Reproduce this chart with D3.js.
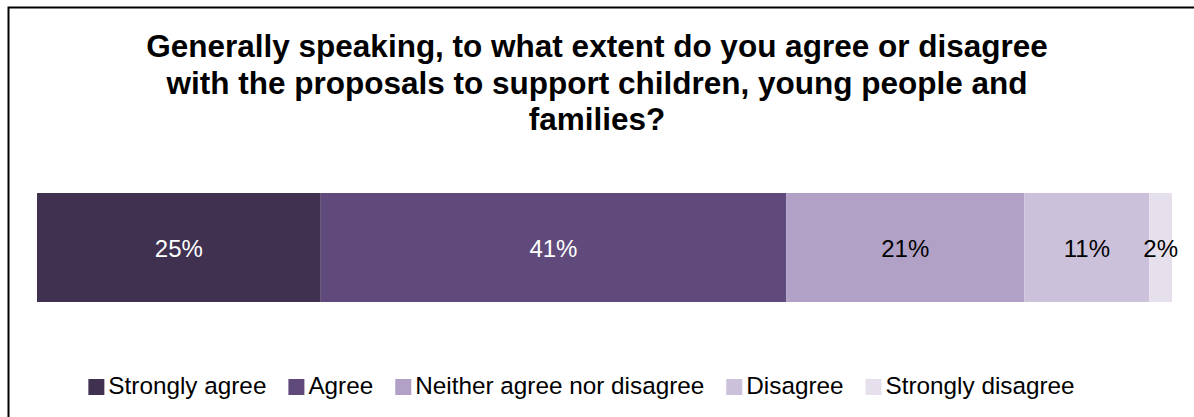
<!DOCTYPE html>
<html>
<head>
<meta charset="utf-8">
<script src="https://cdn.jsdelivr.net/npm/d3@7"></script>
<style>
  html, body { margin: 0; padding: 0; background: #fff; }
  svg { display: block; }
  text { font-family: "Liberation Sans", Arial, sans-serif; }
</style>
</head>
<body>
<svg id="chart" width="1194" height="417"></svg>
<script>
// Survey responses (percent of respondents)
const categories = ["Strongly agree", "Agree", "Neither agree nor disagree", "Disagree", "Strongly disagree"];
const values = [25, 41, 21, 11, 2];
const colors = ["#403151", "#604A7B", "#B2A1C7", "#CCC1DA", "#E6E0EC"];
const labelColors = ["#ffffff", "#ffffff", "#000000", "#000000", "#000000"];
const titleLines = [
  "Generally speaking, to what extent do you agree or disagree",
  "with the proposals to support children, young people and",
  "families?"
];

const svg = d3.select("#chart");
const W = 1194, H = 417;

// outer frame
svg.append("rect")
  .attr("x", 8.5).attr("y", 7.5)
  .attr("width", W + 20).attr("height", H + 20)
  .attr("fill", "#fff").attr("stroke", "#000").attr("stroke-width", 2);

// title
const title = svg.append("text")
  .attr("text-anchor", "middle")
  .attr("font-weight", "bold")
  .attr("font-size", 31.5)
  .attr("fill", "#000");
titleLines.forEach((line, i) => {
  title.append("tspan").attr("x", 597).attr("y", 57 + i * 36.5).text(line);
});

// stacked bar
const x = d3.scaleLinear().domain([0, d3.sum(values)]).range([37, 1172]);
const y = d3.scaleBand().domain(["all"]).range([193, 302]).padding(0);

let cum = 0;
const segs = values.map((v, i) => {
  const s = { cat: categories[i], v, x0: cum, x1: cum + v, color: colors[i], lc: labelColors[i] };
  cum += v;
  return s;
});

const g = svg.append("g");
g.selectAll("rect.seg").data(segs).enter().append("rect")
  .attr("class", "seg")
  .attr("x", d => x(d.x0))
  .attr("y", y("all"))
  .attr("width", d => x(d.x1) - x(d.x0))
  .attr("height", y.bandwidth())
  .attr("fill", d => d.color);

g.selectAll("text.lbl").data(segs).enter().append("text")
  .attr("class", "lbl")
  .attr("x", d => (x(d.x0) + x(d.x1)) / 2)
  .attr("y", 257)
  .attr("text-anchor", "middle")
  .attr("font-size", 24)
  .attr("fill", d => d.lc)
  .text(d => d.v + "%");

// legend, centred under the bar
const legend = svg.append("g");
const sq = 16, gapText = 4, gapItem = 22;
let lx = 0;
categories.forEach((c, i) => {
  const it = legend.append("g");
  it.append("rect").attr("x", 0).attr("y", -15).attr("width", sq).attr("height", sq).attr("fill", colors[i]);
  const t = it.append("text").attr("x", sq + gapText).attr("y", 0).attr("font-size", 24.3).attr("fill", "#000").text(c);
  const w = sq + gapText + t.node().getComputedTextLength();
  it.attr("transform", `translate(${lx},0)`);
  lx += w + gapItem;
});
const legendW = lx - gapItem;
legend.attr("transform", `translate(${581.5 - legendW / 2},394)`);
</script>
</body>
</html>
